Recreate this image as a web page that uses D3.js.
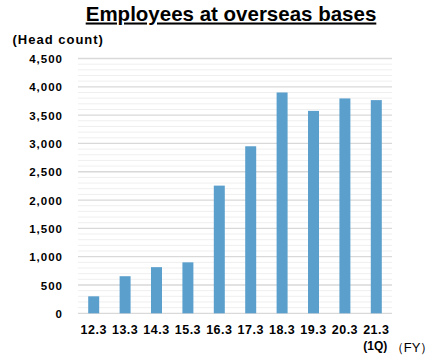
<!DOCTYPE html>
<html><head><meta charset="utf-8">
<script src="https://cdn.jsdelivr.net/npm/d3@7"></script>
<style>
html,body{margin:0;padding:0;background:#fff;}
svg{display:block;}
text{font-family:"Liberation Sans",Arial,sans-serif;fill:#000;}
</style></head>
<body>
<svg id="chart" width="436" height="358"></svg>
<script>
const categories = ["12.3","13.3","14.3","15.3","16.3","17.3","18.3","19.3","20.3","21.3"];
const values = [300, 655, 815, 900, 2255, 2950, 3900, 3575, 3795, 3765];
const yTicks = [0,500,1000,1500,2000,2500,3000,3500,4000,4500];
const minorTicks = d3.range(0, 4501, 100);
const title = "Employees at overseas bases";
const yUnit = "(Head count)";
const lastSub = "(1Q)";
const xUnit = "（FY）";

const svg = d3.select("#chart");
const x = d3.scaleBand().domain(categories).range([78, 392]).paddingInner(0.65).paddingOuter(0.325);
const y = d3.scaleLinear().domain([0, 4500]).range([313.3, 58.5]);

// minor gridlines
svg.append("g").selectAll("line").data(minorTicks.filter(d => d % 500 !== 0)).join("line")
  .attr("x1", 78).attr("x2", 392).attr("y1", d => y(d)).attr("y2", d => y(d))
  .attr("stroke", "#efefef").attr("stroke-width", 1);
// major gridlines
svg.append("g").selectAll("line").data(yTicks).join("line")
  .attr("x1", 78).attr("x2", 392).attr("y1", d => y(d)).attr("y2", d => y(d))
  .attr("stroke", "#d9d9d9").attr("stroke-width", 1.3);

// y axis labels
const yAxis = d3.axisLeft(y).tickValues(yTicks).tickSize(0).tickPadding(0).tickFormat(d3.format(","));
const ya = svg.append("g").attr("transform", "translate(63,0)").call(yAxis);
ya.select(".domain").remove();
ya.selectAll("text").attr("font-family", "Liberation Sans, Arial, sans-serif")
  .attr("font-size", 11.5).attr("font-weight", "bold").attr("fill", "#000")
  .attr("letter-spacing", "1px").attr("dy", "0.36em");

// bars
svg.append("g").selectAll("rect").data(values).join("rect")
  .attr("x", (d, i) => x(categories[i])).attr("width", x.bandwidth())
  .attr("y", d => y(d)).attr("height", d => y(0) - y(d))
  .attr("fill", "#5b9fcc");

// x axis labels
const xAxis = d3.axisBottom(x).tickSize(0).tickPadding(0);
const xa = svg.append("g").attr("transform", "translate(0,334)").call(xAxis);
xa.select(".domain").remove();
xa.selectAll("text").attr("font-family", "Liberation Sans, Arial, sans-serif")
  .attr("font-size", 12.5).attr("font-weight", "bold").attr("fill", "#000")
  .attr("letter-spacing", "0.5px").attr("dy", 0);

// (1Q)
svg.append("text").attr("x", x(categories[categories.length-1]) + x.bandwidth()/2 - 1).attr("y", 350)
  .attr("text-anchor", "middle").attr("font-size", 12).attr("font-weight", "bold").text(lastSub);
// (FY)
svg.append("text").attr("x", 412).attr("y", 352).attr("text-anchor", "middle")
  .attr("font-family", "Noto Sans CJK JP, sans-serif").attr("font-size", 13).text(xUnit);

// Head count label
svg.append("text").attr("x", 12.5).attr("y", 43.5).attr("font-size", 13).attr("font-weight", "bold")
  .attr("letter-spacing", "1px").text(yUnit);

// title
svg.append("text").attr("x", 231).attr("y", 20.5).attr("text-anchor", "middle")
  .attr("font-size", 20.5).attr("font-weight", "bold").attr("text-decoration", "underline").text(title);
</script>
</body></html>
